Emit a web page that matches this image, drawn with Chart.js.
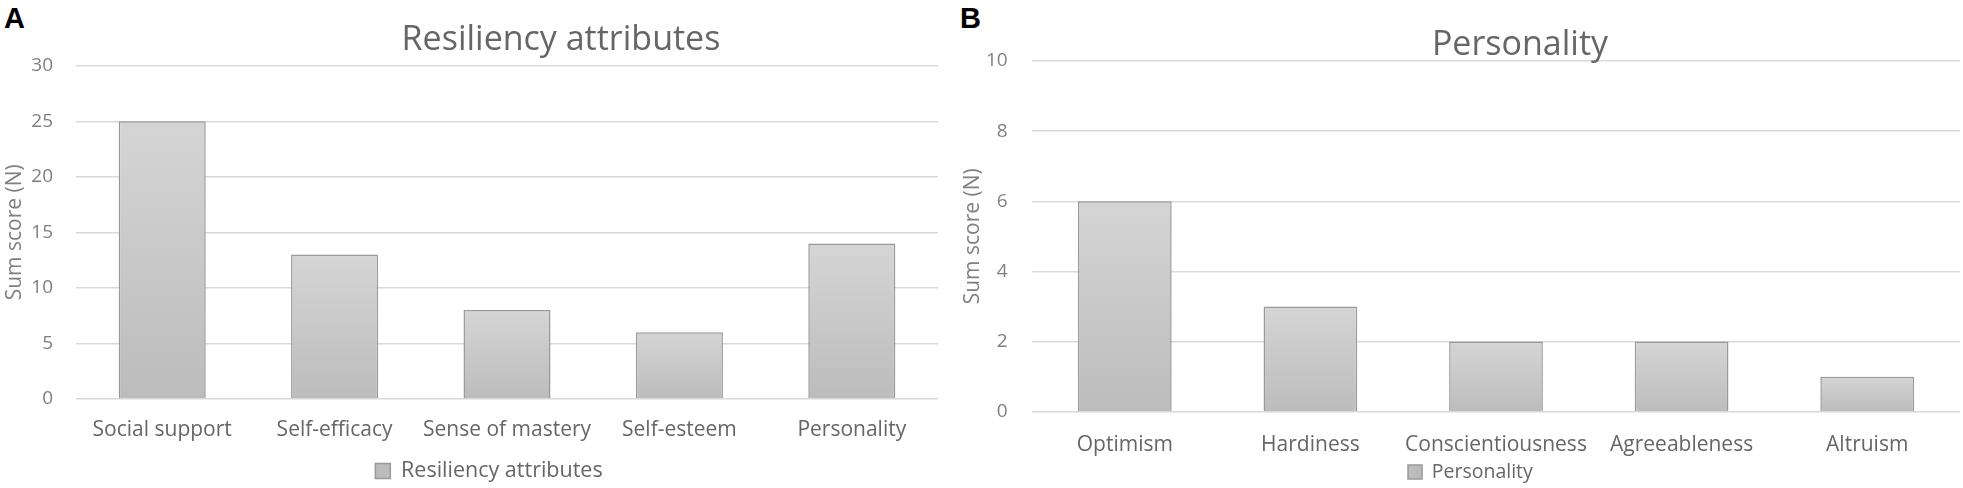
<!DOCTYPE html>
<html>
<head>
<meta charset="utf-8">
<title>Resiliency attributes / Personality</title>
<script src="https://cdn.jsdelivr.net/npm/chart.js@4.4.1/dist/chart.umd.min.js"></script>
<style>
  html, body { margin: 0; padding: 0; background: #fff; }
  body { width: 1963px; height: 488px; position: relative; overflow: hidden; }
  .panel { position: absolute; top: 0; height: 488px; }
  .tag { position: absolute; top: 3.5px; font: bold 29px/29px "Liberation Sans", Arial, sans-serif; color: #000; }
</style>
</head>
<body>
<div class="tag" style="left:4px">A</div>
<div class="tag" style="left:960px">B</div>
<div class="panel" style="left:0; width:950px"><canvas id="chartA"></canvas></div>
<div class="panel" style="left:950px; width:1013px"><canvas id="chartB"></canvas></div>
<script>
// panel A
var resilCats = ['Social support', 'Self-efficacy', 'Sense of mastery', 'Self-esteem', 'Personality'];
var resilScores = [25, 13, 8, 6, 14];
var resilTicks = [0, 5, 10, 15, 20, 25, 30];

// panel B
var persCats = ['Optimism', 'Hardiness', 'Conscientiousness', 'Agreeableness', 'Altruism'];
var persScores = [6, 3, 2, 2, 1];
var persTicks = [0, 2, 4, 6, 8, 10];

var FONT = "'Open Sans', 'Noto Sans', sans-serif";

// moves title / legend boxes after layout (Excel placed them off-centre)
var nudge = {
  id: 'nudge',
  afterLayout: function(chart, args, o) {
    var t = chart.titleBlock, l = chart.legend;
    if (t) { t.left += o.titleDx; t.right += o.titleDx; t.top += o.titleDy; t.bottom += o.titleDy; }
    if (l) { l.left += o.legendDx; l.right += o.legendDx; l.top += o.legendDy; l.bottom += o.legendDy; }
  }
};

function barFill(ctx) {
  if (ctx.type !== 'data' || !ctx.chart.chartArea) return '#c8c8c8';
  var ys = ctx.chart.scales.y;
  var top = ys.getPixelForValue(ctx.raw);
  var bottom = ys.getPixelForValue(0);
  var g = ctx.chart.ctx.createLinearGradient(0, top, 0, bottom);
  g.addColorStop(0, '#d5d5d5');
  g.addColorStop(1, '#bcbcbc');
  return g;
}

function makePanel(id, cats, values, name, ticks, p) {
  return new Chart(document.getElementById(id), {
    type: 'bar',
    data: {
      labels: cats,
      datasets: [{
        label: name,
        data: values,
        backgroundColor: barFill,
        borderColor: '#999999',
        borderWidth: 1.5,
        barPercentage: 0.505,
        categoryPercentage: 1
      }]
    },
    plugins: [nudge],
    options: {
      responsive: true,
      maintainAspectRatio: false,
      animation: false,
      layout: { padding: { left: 0, right: p.padRight, top: p.padTop, bottom: 0 } },
      plugins: {
        nudge: p.nudge,
        tooltip: { enabled: false },
        title: {
          display: true,
          text: name,
          color: '#666666',
          font: { family: FONT, size: 34, weight: 'normal', lineHeight: 1.2 },
          padding: p.titlePad
        },
        legend: {
          position: 'bottom',
          labels: {
            color: '#666666',
            font: { family: FONT, size: p.legendSize },
            boxWidth: p.box,
            boxHeight: p.box,
            padding: 0
          }
        }
      },
      scales: {
        x: {
          grid: { display: false, drawTicks: false },
          border: { display: false },
          ticks: {
            color: '#666666',
            font: { family: FONT, size: 21 },
            padding: p.xPad,
            autoSkip: false,
            maxRotation: 0,
            minRotation: 0
          },
          afterFit: function(s) { s.height = p.xHeight; }
        },
        y: {
          min: ticks[0],
          max: ticks[ticks.length - 1],
          afterBuildTicks: function(s) {
            s.ticks = ticks.map(function(v) { return { value: v }; });
          },
          grid: { color: '#d9d9d9', lineWidth: 1.4, drawTicks: false },
          border: { display: false },
          ticks: {
            color: '#808080',
            font: { family: FONT, size: 19 },
            padding: p.yPad
          },
          title: {
            display: true,
            text: 'Sum score (N)',
            color: '#808080',
            font: { family: FONT, size: 21 },
            padding: { top: p.yTitlePad, bottom: 0 }
          },
          afterFit: function(s) { s.width = p.yWidth; }
        }
      }
    }
  });
}

makePanel('chartA', resilCats, resilScores, 'Resiliency attributes', resilTicks, {
  padRight: 12, padTop: 0,
  titlePad: { top: 19.6, bottom: 5.3 },
  legendSize: 21.5, box: 15,
  xPad: 18.4, xHeight: 57.5,
  yPad: 23, yTitlePad: 2.4, yWidth: 76,
  nudge: { titleDx: 92, titleDy: 0, legendDx: 20, legendDy: 3.75 }
});

makePanel('chartB', persCats, persScores, 'Personality', persTicks, {
  padRight: 3, padTop: 0.2,
  titlePad: { top: 20, bottom: 0 },
  legendSize: 19.5, box: 14,
  xPad: 20.4, xHeight: 46.8,
  yPad: 24.3, yTitlePad: 10.4, yWidth: 82,
  nudge: { titleDx: 65, titleDy: 4.9, legendDx: 15.4, legendDy: 3.75 }
});
</script>
</body>
</html>
